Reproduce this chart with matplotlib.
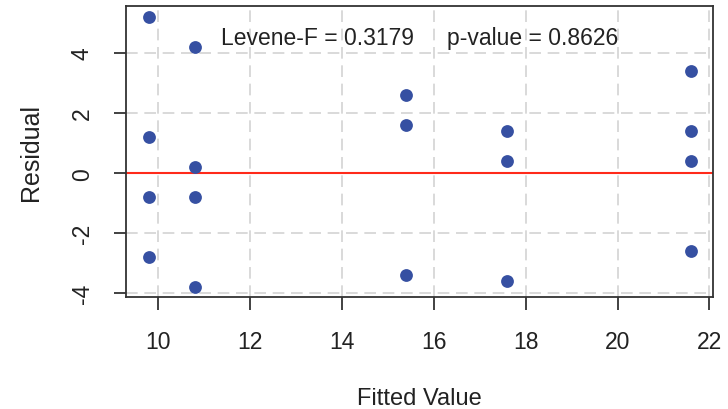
import matplotlib.pyplot as plt

plt.rcParams['font.family'] = ['Liberation Sans', 'DejaVu Sans']
plt.rcParams['axes.unicode_minus'] = False

fitted = [9.8, 9.8, 9.8, 9.8,
          10.8, 10.8, 10.8, 10.8,
          15.4, 15.4, 15.4,
          17.6, 17.6, 17.6,
          21.6, 21.6, 21.6, 21.6]
resid = [5.2, 1.2, -0.8, -2.8,
         4.2, 0.2, -0.8, -3.8,
         2.6, 1.6, -3.4,
         1.4, 0.4, -3.6,
         3.4, 1.4, 0.4, -2.6]
levene_f = 0.3179
p_value = 0.8626

fig = plt.figure(figsize=(7.28, 4.10), dpi=100)
ax = fig.add_axes([0.173, 0.273, 0.806, 0.710])

ax.set_xlim(9.3, 22.07)
ax.set_ylim(-4.13, 5.57)
ax.set_xticks(range(10, 23, 2))
ax.set_yticks(range(-4, 5, 2))
ax.grid(True, color='#d3d3d3', linestyle=(0, (7, 4)), linewidth=1.2)
ax.set_axisbelow(True)

ax.axhline(0, color='#ff2a1a', linewidth=1.5, zorder=2)
ax.scatter(fitted, resid, s=85, color='#3650a2', zorder=3, linewidths=0)

ax.text(13.47, 4.53, 'Levene-F = %.4f' % levene_f, ha='center', va='center', fontsize=16.5, color='#222222')
ax.text(18.15, 4.53, 'p-value = %.4f' % p_value, ha='center', va='center', fontsize=16.5, color='#222222')

for s in ax.spines.values():
    s.set_color('#333333')
    s.set_linewidth(1.3)
ax.tick_params(direction='out', length=9, width=1.3, color='#333333',
               labelsize=16.5, labelcolor='#222222')
ax.tick_params(axis='x', pad=15)
ax.tick_params(axis='y', pad=14)
for lab in ax.get_yticklabels():
    lab.set_rotation(90)
    lab.set_va('center')

ax.set_xlabel('Fitted Value', fontsize=17, color='#222222', labelpad=24)
ax.set_ylabel('Residual', fontsize=18, color='#222222', labelpad=20)

fig.savefig('out.png', dpi=100)
